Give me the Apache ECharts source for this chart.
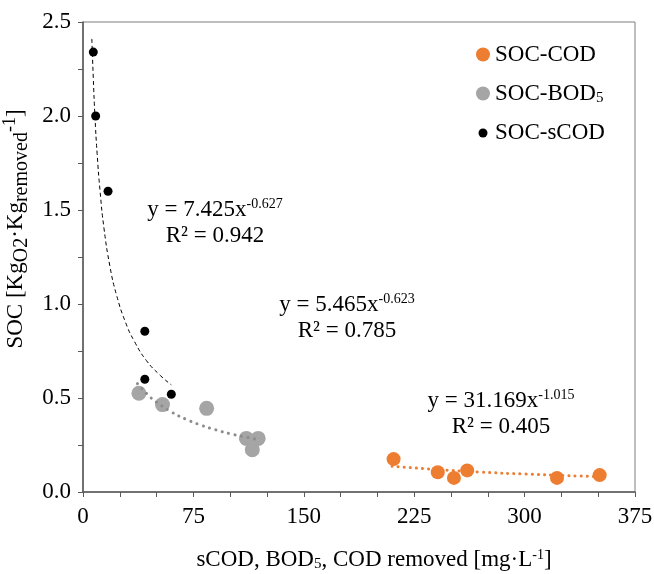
<!DOCTYPE html>
<html>
<head>
<meta charset="utf-8">
<script src="https://cdn.jsdelivr.net/npm/echarts@6/dist/echarts.min.js"></script>
<style>
  html, body { margin: 0; padding: 0; background: #fff; }
  #main { width: 654px; height: 574px; }
</style>
</head>
<body>
<div id="main"></div>
<script>
// measured points
var codX = [211, 241, 252, 261, 322, 351]
var codY = [0.175, 0.105, 0.075, 0.115, 0.075, 0.09]
var bodX = [38, 54, 84, 111, 119, 115]
var bodY = [0.525, 0.465, 0.445, 0.285, 0.285, 0.225]
var scodX = [7, 8.6, 17, 42, 42, 60]
var scodY = [2.34, 2.0, 1.6, 0.855, 0.6, 0.52]

// trend lines
var scodTrendX = [6, 7, 8.1, 9.6, 11.6, 14.3, 18.3, 22.7, 29, 35, 43, 52.5, 60]
var scodTrendY = [2.41, 2.2, 2.0, 1.8, 1.6, 1.4, 1.2, 1.05, 0.9, 0.8, 0.7, 0.62, 0.57]
var bodTrendX = [37, 45, 50, 60, 70, 80, 90, 100, 110, 119]
var bodTrendY = [0.576, 0.51, 0.478, 0.426, 0.387, 0.356, 0.331, 0.31, 0.293, 0.278]
var codTrendX = [210, 240, 270, 300, 350]
var codTrendY = [0.137, 0.12, 0.106, 0.0955, 0.0816]

var font = 'Liberation Serif'

function pairs(xs, ys) {
  return xs.map(function (x, i) { return [x, ys[i]] })
}

var rich = {
  sub: { fontSize: 15, fontFamily: font, color: '#000', verticalAlign: 'bottom', padding: [9, 0, 0, 0] },
  sup: { fontSize: 14, fontFamily: font, color: '#000', verticalAlign: 'top', padding: [0, 0, 9, 0] },
  ysub: { fontSize: 20, fontFamily: font, color: '#000', verticalAlign: 'bottom', padding: [10, 0, 0, 0] },
  ysup: { fontSize: 18, fontFamily: font, color: '#000', verticalAlign: 'top', padding: [0, 0, 10, 0] }
}

var eqStyle = { align: 'center', font: '23px ' + font, fill: '#000', lineHeight: 26, rich: rich }

var chartDom = document.getElementById('main')
var myChart = echarts.init(chartDom)
var option

option = {
  animation: false,
  grid: {
    left: 83,
    right: 19,
    top: 22,
    bottom: 82,
    outerBoundsMode: 'none',
    show: true,
    borderColor: '#7f7f7f',
    borderWidth: 1
  },
  legend: {
    orient: 'vertical',
    left: 471,
    top: 38,
    itemGap: 16,
    itemWidth: 14,
    itemHeight: 14,
    data: [
      { name: 'SOC-COD', icon: 'circle' },
      { name: 'SOC-BOD5', icon: 'circle' },
      { name: 'SOC-sCOD', icon: 'path://M0,0M14,14M11.5,7A4.5,4.5,0,1,1,2.5,7A4.5,4.5,0,1,1,11.5,7Z' }
    ],
    formatter: function (name) {
      return name === 'SOC-BOD5' ? 'SOC-BOD{sub|5}' : name
    },
    textStyle: { fontFamily: font, fontSize: 23, color: '#000', rich: rich }
  },
  xAxis: {
    type: 'value',
    min: 0,
    max: 375,
    interval: 75,
    name: 'sCOD, BOD{sub|5}, COD removed [mg·L{sup|-1}]',
    nameLocation: 'middle',
    nameGap: 56,
    nameTextStyle: { fontFamily: font, fontSize: 23, color: '#000', rich: rich, padding: [0, 0, 0, 30] },
    splitLine: { show: false },
    axisLine: { lineStyle: { color: '#595959', width: 1.5 } },
    axisTick: { show: true, length: 5, lineStyle: { color: '#595959' } },
    minorTick: { show: true, splitNumber: 3, length: 5, lineStyle: { color: '#595959' } },
    axisLabel: { fontFamily: font, fontSize: 23, color: '#000', margin: 13 }
  },
  yAxis: {
    type: 'value',
    min: 0,
    max: 2.5,
    interval: 0.5,
    name: 'SOC [Kg{ysub|O2}·Kg{ysub|removed}{ysup|-1}]',
    nameLocation: 'middle',
    nameGap: 40,
    nameTextStyle: { fontFamily: font, fontSize: 23, color: '#000', rich: rich, padding: [0, 0, 0, 56] },
    splitLine: { show: false },
    axisLine: { show: true, lineStyle: { color: '#595959', width: 1.5 } },
    axisTick: { show: true, length: 5, lineStyle: { color: '#595959' } },
    minorTick: { show: true, splitNumber: 2, length: 5, lineStyle: { color: '#595959' } },
    axisLabel: {
      fontFamily: font, fontSize: 23, color: '#000', margin: 12,
      formatter: function (v) { return v.toFixed(1) }
    }
  },
  graphic: [
    {
      type: 'text', x: 215, y: 197,
      style: Object.assign({ text: 'y = 7.425x{sup|-0.627}\nR² = 0.942' }, eqStyle)
    },
    {
      type: 'text', x: 347, y: 292,
      style: Object.assign({ text: 'y = 5.465x{sup|-0.623}\nR² = 0.785' }, eqStyle)
    },
    {
      type: 'text', x: 501, y: 388,
      style: Object.assign({ text: 'y = 31.169x{sup|-1.015}\nR² = 0.405' }, eqStyle)
    }
  ],
  series: [
    {
      name: 'SOC-COD',
      type: 'scatter',
      symbolSize: 14,
      itemStyle: { color: '#ed7d31', opacity: 1 },
      data: pairs(codX, codY)
    },
    {
      name: 'SOC-BOD5',
      type: 'scatter',
      symbolSize: 15,
      itemStyle: { color: '#a5a5a5', opacity: 1 },
      data: pairs(bodX, bodY)
    },
    {
      name: 'SOC-sCOD',
      type: 'scatter',
      symbolSize: 9,
      itemStyle: { color: '#000', opacity: 1 },
      data: pairs(scodX, scodY)
    },
    {
      name: 'trend-sCOD',
      type: 'line',
      smooth: true,
      showSymbol: false,
      silent: true,
      lineStyle: { color: '#000', width: 1, type: [4, 3] },
      data: pairs(scodTrendX, scodTrendY)
    },
    {
      name: 'trend-BOD5',
      type: 'line',
      smooth: true,
      showSymbol: false,
      silent: true,
      lineStyle: { color: '#8c8c8c', width: 3, type: [0.1, 6.5], cap: 'round' },
      data: pairs(bodTrendX, bodTrendY)
    },
    {
      name: 'trend-COD',
      type: 'line',
      smooth: true,
      showSymbol: false,
      silent: true,
      lineStyle: { color: '#ed7d31', width: 3, type: [0.1, 6], cap: 'round' },
      data: pairs(codTrendX, codTrendY)
    }
  ]
}

option && myChart.setOption(option)
</script>
</body>
</html>
